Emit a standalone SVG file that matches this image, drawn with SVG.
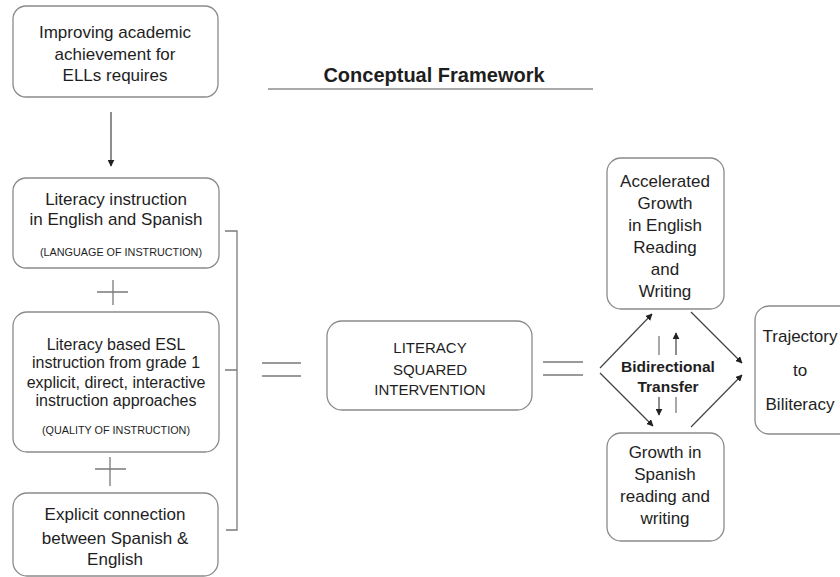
<svg xmlns="http://www.w3.org/2000/svg" width="840" height="577" viewBox="0 0 840 577">
<style>
.box{fill:#fff;stroke:#8a8a8a;stroke-width:1.3}
.t{font-family:"Liberation Sans",Arial,sans-serif;font-size:17px;fill:#1e1e1e;text-anchor:middle}
.m{font-family:"Liberation Sans",Arial,sans-serif;font-size:16px;fill:#1e1e1e;text-anchor:middle}
.s{font-family:"Liberation Sans",Arial,sans-serif;font-size:10.8px;fill:#1e1e1e;text-anchor:middle}
.c{font-family:"Liberation Sans",Arial,sans-serif;font-size:15px;fill:#1e1e1e;text-anchor:middle}
.b{font-family:"Liberation Sans",Arial,sans-serif;font-weight:bold;fill:#1e1e1e;text-anchor:middle}
.ln{stroke:#7a7a7a;stroke-width:1.3;fill:none}
.ar{stroke:#444;stroke-width:1.2;fill:none;marker-end:url(#ah)}
</style>
<defs>
<marker id="ah" viewBox="0 0 10 10" refX="9" refY="5" markerWidth="7" markerHeight="7" markerUnits="userSpaceOnUse" orient="auto">
<path d="M0,0 L10,5 L0,10 z" fill="#222"/>
</marker>
</defs>
<rect width="840" height="577" fill="#fff"/>

<g id="title">
<text class="b" x="434" y="82" font-size="20">Conceptual Framework</text>
<line x1="268" y1="89" x2="593" y2="89" stroke="#555" stroke-width="1.2"/>
</g>

<g id="n1">
<rect class="box" x="13" y="6" width="205" height="91" rx="13"/>
<text class="t" x="115" y="38">Improving academic</text>
<text class="t" x="115" y="60">achievement for</text>
<text class="t" x="115" y="81">ELLs requires</text>
</g>

<g id="n2">
<rect class="box" x="13" y="178" width="206" height="90" rx="13"/>
<text class="t" x="116" y="205">Literacy instruction</text>
<text class="t" x="116" y="225">in English and Spanish</text>
<text class="s" x="121" y="256">(LANGUAGE OF INSTRUCTION)</text>
</g>

<g id="n3">
<rect class="box" x="13" y="312" width="206" height="140" rx="14"/>
<text class="m" x="116" y="350">Literacy based ESL</text>
<text class="m" x="116" y="368">instruction from grade 1</text>
<text class="m" x="116" y="388">explicit, direct, interactive</text>
<text class="m" x="116" y="406">instruction approaches</text>
<text class="s" x="116" y="434">(QUALITY OF INSTRUCTION)</text>
</g>

<g id="n4">
<rect class="box" x="13" y="493" width="205" height="83" rx="14"/>
<text class="t" x="115" y="520">Explicit connection</text>
<text class="t" x="115" y="544">between Spanish &amp;</text>
<text class="t" x="115" y="565">English</text>
</g>

<g id="n5">
<rect class="box" x="327" y="321" width="205" height="89" rx="15"/>
<text class="c" x="430" y="353">LITERACY</text>
<text class="c" x="430" y="375">SQUARED</text>
<text class="c" x="430" y="395">INTERVENTION</text>
</g>

<g id="n6">
<rect class="box" x="607" y="158" width="117" height="151" rx="14"/>
<text class="t" x="665" y="187">Accelerated</text>
<text class="t" x="665" y="209">Growth</text>
<text class="t" x="665" y="231">in English</text>
<text class="t" x="665" y="253">Reading</text>
<text class="t" x="665" y="275">and</text>
<text class="t" x="665" y="297">Writing</text>
</g>

<g id="n7">
<rect class="box" x="607" y="433" width="117" height="108" rx="14"/>
<text class="t" x="665" y="458">Growth in</text>
<text class="t" x="665" y="480">Spanish</text>
<text class="t" x="665" y="502">reading and</text>
<text class="t" x="665" y="524">writing</text>
</g>

<g id="n8">
<rect class="box" x="755" y="306" width="110" height="128" rx="14"/>
<text class="t" x="800" y="342">Trajectory</text>
<text class="t" x="800" y="376">to</text>
<text class="t" x="800" y="410">Biliteracy</text>
</g>

<g id="n9">
<text class="b" x="668" y="372" font-size="15.5">Bidirectional</text>
<text class="b" x="668" y="392" font-size="15.5">Transfer</text>
</g>

<g id="connectors">
<line class="ar" x1="111" y1="112" x2="111" y2="166"/>
<path class="ln" d="M97,292 H128 M113,280 V305"/>
<path class="ln" d="M95,469 H126 M110,457 V486"/>
<path class="ln" d="M225,231 H237 V530 H226 M225,370 H237"/>
<path class="ln" d="M262,363 H301 M262,376 H301"/>
<path class="ln" d="M543,362 H583 M543,375 H583"/>
<line class="ar" x1="600" y1="368" x2="652" y2="314"/>
<line class="ar" x1="600" y1="373" x2="653" y2="426"/>
<line class="ar" x1="691" y1="312" x2="742" y2="363"/>
<line class="ar" x1="691" y1="427" x2="742" y2="375"/>
<line class="ln" x1="659" y1="336" x2="659" y2="355"/>
<line class="ar" x1="676" y1="355" x2="676" y2="333"/>
<line class="ar" x1="659" y1="397" x2="659" y2="415"/>
<line class="ln" x1="676" y1="397" x2="676" y2="413"/>
</g>
</svg>
